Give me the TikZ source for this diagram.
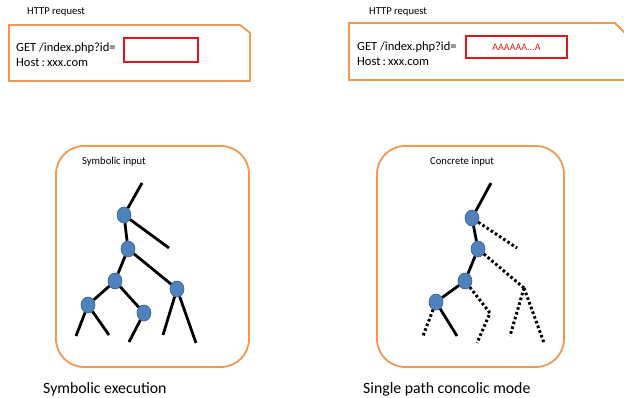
\documentclass[tikz,border=0pt]{standalone}
\usepackage{fontspec}
\setmainfont{Carlito}
\usetikzlibrary{shapes.geometric}
\definecolor{boxorange}{RGB}{242,152,82}
\definecolor{nodeblue}{RGB}{79,129,189}
\definecolor{nodeedge}{RGB}{56,93,138}
\definecolor{inred}{RGB}{228,20,20}
\tikzset{
  frame/.style={draw=boxorange, line width=1.8pt},
  redbox/.style={draw=inred, line width=1.6pt, minimum width=74pt, minimum height=24pt, inner sep=0pt},
  vertex/.style={ellipse, draw=nodeedge, fill=nodeblue, line width=0.6pt, minimum width=14pt, minimum height=16pt, inner sep=0pt},
  branch/.style={draw=black, line width=2.8pt},
  dotbranch/.style={draw=black, line width=3pt, dash pattern=on 2.6pt off 2.4pt},
  small/.style={font=\fontsize{10.6}{12}\selectfont, inner sep=0pt},
  reqtext/.style={font=\fontsize{12.5}{15}\selectfont, inner sep=0pt, align=left},
  caption/.style={font=\fontsize{15.8}{18}\selectfont, inner sep=0pt}
}
\begin{document}
\begin{tikzpicture}[x=1pt,y=-1pt]
\useasboundingbox (0,0) rectangle (624,398);
\clip (0,0) rectangle (624,398);

% HTTP request boxes
\draw[frame] (9,25) -- (240,25) -- (250,33) -- (250,81) -- (9,81) -- cycle;
\node[small, anchor=west] (lhttp) at (27,12) {HTTP request};
\node[reqtext, anchor=west] (lget) at (16,48) {GET /index.php?id=};
\node[reqtext, anchor=west] (lhost) at (16,63) {Host\,:\,xxx.com};
\node[redbox] (lin) at (161,50) {};

\draw[frame] (349,23) -- (615,23) -- (626,34) -- (626,80) -- (349,80) -- cycle;
\node[small, anchor=west] (rhttp) at (369,12) {HTTP request};
\node[reqtext, anchor=west] (rget) at (357,47) {GET /index.php?id=};
\node[reqtext, anchor=west] (rhost) at (357,62) {Host\,:\,xxx.com};
\node[redbox, minimum width=101pt, minimum height=22pt, text=inred, font=\fontsize{10}{12}\selectfont] (rin) at (516.5,47) {AAAAAA...A};

% rounded panels
\draw[frame, rounded corners=28pt] (56,146) rectangle (249,367);
\draw[frame, rounded corners=28pt] (377,146) rectangle (564,367);
\node[small, anchor=west] (lpanel) at (82,162) {Symbolic input};
\node[small, anchor=west] (rpanel) at (430,162) {Concrete input};

% left tree
\coordinate (lt) at (142,183);
\coordinate (lb1) at (169,248);
\coordinate (ll1) at (76,336);
\coordinate (ll2) at (109,335);
\coordinate (ll3) at (129,342);
\coordinate (ll4) at (163,335);
\coordinate (ll5) at (196,343);
\node[vertex] (a1) at (124,215) {};
\node[vertex] (a2) at (128,249) {};
\node[vertex] (a3) at (115,281) {};
\node[vertex] (a4) at (177,289) {};
\node[vertex] (a5) at (88,305) {};
\node[vertex] (a6) at (144,313) {};
\draw[branch] (lt) -- (a1);
\draw[branch] (a1) -- (lb1);
\draw[branch] (a1) -- (a2);
\draw[branch] (a2) -- (a3);
\draw[branch] (a2) -- (a4);
\draw[branch] (a3) -- (a5);
\draw[branch] (a3) -- (a6);
\draw[branch] (a5) -- (ll1);
\draw[branch] (a5) -- (ll2);
\draw[branch] (a6) -- (ll3);
\draw[branch] (a4) -- (ll4);
\draw[branch] (a4) -- (ll5);

% right tree
\coordinate (rt) at (491,183);
\coordinate (rb1) at (517,248);
\coordinate (rj) at (524,288);
\coordinate (rl1) at (510,336);
\coordinate (rl2) at (544,343);
\coordinate (rk) at (490,313);
\coordinate (rl3) at (477,343);
\coordinate (rl4) at (423,336);
\coordinate (rl5) at (457,336);
\node[vertex] (b1) at (472,218) {};
\node[vertex] (b2) at (478,249) {};
\node[vertex] (b3) at (465,281) {};
\node[vertex] (b4) at (436,302) {};
\draw[branch] (rt) -- (b1);
\draw[dotbranch] (b1) -- (rb1);
\draw[branch] (b1) -- (b2);
\draw[dotbranch] (b2) -- (rj);
\draw[dotbranch] (rj) -- (rl1);
\draw[dotbranch] (rj) -- (rl2);
\draw[branch] (b2) -- (b3);
\draw[dotbranch] (b3) -- (rk) -- (rl3);
\draw[branch] (b3) -- (b4);
\draw[dotbranch] (b4) -- (rl4);
\draw[branch] (b4) -- (rl5);

% captions
\node[caption, anchor=west] (lcap) at (43,389) {Symbolic execution};
\node[caption, anchor=west] (rcap) at (363,389) {Single path concolic mode};
\end{tikzpicture}
\end{document}
